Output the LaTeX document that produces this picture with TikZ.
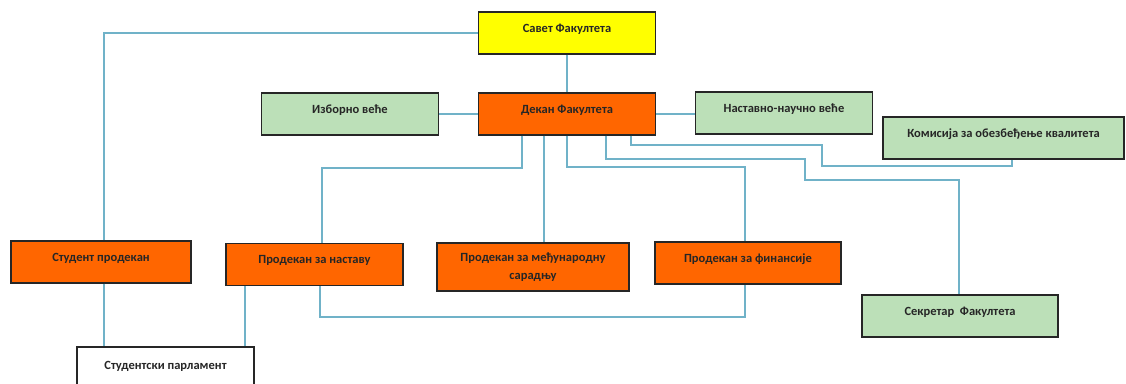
\documentclass[tikz,border=0pt]{standalone}
\usepackage{fontspec}
\setmainfont{Carlito}
\usepackage{xcolor}
\definecolor{linkblue}{RGB}{112,178,200}
\definecolor{boardyellow}{RGB}{255,255,0}
\definecolor{deanorange}{RGB}{255,102,0}
\definecolor{bodygreen}{RGB}{188,224,184}
\tikzset{
  box/.style={draw=black!85,line width=1.3pt,minimum width=#1,minimum height=42pt,
    inner sep=0pt,text height=8pt,text depth=10pt,text=black!85,
    font=\fontsize{12.5}{15}\selectfont\bfseries},
  box/.default=177pt,
  link/.style={linkblue,line width=1.3pt},
}
\tikzstyle{board}=[fill=boardyellow]
\tikzstyle{dean}=[fill=deanorange]
\tikzstyle{body}=[fill=bodygreen]

\begin{document}
\begin{tikzpicture}[x=1pt,y=-1pt]
    \useasboundingbox (0,0) rectangle (1126,383);
    \node[box,board] (savet) at (567,33) {Савет Факултета};
    \node[box,dean] (dekan) at (567,114) {Декан Факултета};
    \node[box,body] (izborno) at (350,114) {Изборно веће};
    \node[box,body] (nastavno) at (784,113) {Наставно-научно веће};
    \node[box=241pt,body] (komisija) at (1003.5,138) {Комисија за обезбеђење квалитета};
    \node[box=180pt,dean] (studprod) at (101,262) {Студент продекан};
    \node[box=177pt,dean] (pnastava) at (314.5,264.5) {Продекан за наставу};
    \node[box=192pt,dean,minimum height=48pt,text height=,text depth=,align=center,
      font=\fontsize{12.5}{18}\selectfont\bfseries]
      (pmedj) at (533,267) {Продекан за међународну\\сарадњу};
    \node[box=186pt,dean] (pfin) at (748,263) {Продекан за финансије};
    \node[box=196pt,body] (sekretar) at (960,316) {Секретар\ \ Факултета};
    \node[box=177pt,fill=white,minimum height=46pt] (parlament) at (165.5,370) {Студентски парламент};

    \draw[link] (savet.west) -| (104,0 |- studprod.north);
    \draw[link] (savet.south) -- (dekan.north);
    \draw[link] (izborno.east) -- (izborno.east -| dekan.west);
    \draw[link] (dekan.east) -- (dekan.east -| nastavno.west);
    \draw[link] (522,0 |- dekan.south) -- (522,168) -| (322,0 |- pnastava.north);
    \draw[link] (544,0 |- dekan.south) -- (544,0 |- pmedj.north);
    \draw[link] (567,0 |- dekan.south) -- (567,167) -| (745,0 |- pfin.north);
    \draw[link] (606,0 |- dekan.south) -- (606,159) -| (805,180) -| (959,0 |- sekretar.north);
    \draw[link] (631,0 |- dekan.south) -- (631,145) -| (822,166) -| (1012,0 |- komisija.south);
    \draw[link] (104,0 |- studprod.south) -- (104,0 |- parlament.north);
    \draw[link] (245,0 |- pnastava.south) -- (245,0 |- parlament.north);
    \draw[link] (320,0 |- pnastava.south) -- (320,317) -| (745,0 |- pfin.south);
  \end{tikzpicture}
\end{document}
